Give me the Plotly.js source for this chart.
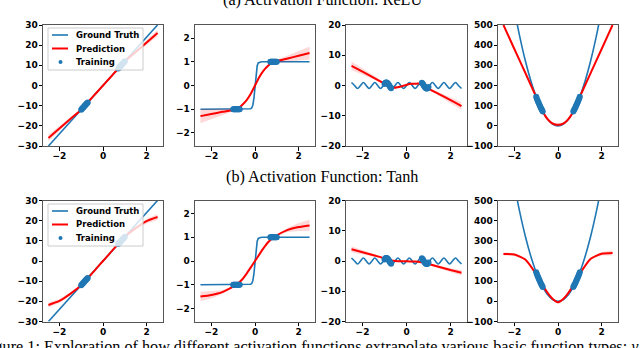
<!DOCTYPE html>
<html>
<head>
<meta charset="utf-8">
<script src="https://cdn.plot.ly/plotly-3.0.1.min.js"></script>
<style>
    html, body { margin: 0; padding: 0; background: #ffffff; }
    #figure { width: 640px; height: 348px; }
</style>
</head>
<body>
<div id="figure"></div>
<script>
// Ground truth curves
const gtLinX = [-2.5, 2.5];
const gtLinY = [-30, 30];

const gtStepX = [-2.5, -0.35, -0.25, -0.2, -0.15, -0.1, -0.05, 0, 0.05, 0.1, 0.15, 0.2, 0.25, 0.35, 2.5];
const gtStepY = [-1, -1, -0.99, -0.98, -0.95, -0.83, -0.54, 0, 0.54, 0.83, 0.95, 0.98, 0.99, 1, 1];

const gtSinX = [-2.5, -2.36, -2.23, -2.09, -1.96, -1.83, -1.7, -1.57, -1.44, -1.31, -1.18, -1.05, -0.92,
    -0.79, -0.65, -0.52, -0.39, -0.26, -0.13, 0, 0.13, 0.26, 0.39, 0.52, 0.65, 0.79, 0.92, 1.05, 1.18,
    1.31, 1.44, 1.57, 1.7, 1.83, 1.96, 2.09, 2.23, 2.36, 2.5];
const gtSinY = [0.99, 0, -1, 0, 1, 0, -1, 0, 1, 0, -1, 0, 1,
    0, -1, 0, 1, 0, -1, 0, 1, 0, -1, 0, 1, 0, -1, 0, 1,
    0, -1, 0, 1, 0, -1, 0, 1, 0, -0.99];

const gtSqX = [-2, -1.75, -1.5, -1.25, -1, -0.75, -0.5, -0.25, 0, 0.25, 0.5, 0.75, 1, 1.25, 1.5, 1.75, 2];
const gtSqY = [576, 441, 324, 225, 144, 81, 36, 9, 0, 9, 36, 81, 144, 225, 324, 441, 576];

// Training samples
const trainX = [-1.0, -0.97, -0.94, -0.91, -0.88, -0.85, -0.82, -0.79, -0.76, -0.73, -0.7,
    0.7, 0.73, 0.76, 0.79, 0.82, 0.85, 0.88, 0.91, 0.94, 0.97, 1.0];
const trainLinY = [-12, -11.6, -11.3, -10.9, -10.6, -10.2, -9.8, -9.5, -9.1, -8.8, -8.4,
    8.4, 8.8, 9.1, 9.5, 9.8, 10.2, 10.6, 10.9, 11.3, 11.6, 12];
const trainStepY = [-1, -1, -1, -1, -1, -1, -1, -1, -1, -1, -1,
    1, 1, 1, 1, 1, 1, 1, 1, 1, 1, 1];
const trainSinY = [0.5, 0.8, 1.0, 1.0, 0.9, 0.7, 0.4, 0.1, -0.3, -0.6, -0.9,
    0.9, 0.6, 0.3, -0.1, -0.4, -0.7, -0.9, -1.0, -1.0, -0.8, -0.5];
const trainSqY = [144, 136, 127, 119, 112, 104, 97, 90, 83, 77, 71,
    71, 77, 83, 90, 97, 104, 112, 119, 127, 136, 144];

// Predictions (mean and half width of the shaded band)
const predX = [-2.5, -2, -1.5, -1, -0.8, -0.6, -0.4, -0.2, 0, 0.2, 0.4, 0.6, 0.8, 1, 1.5, 2, 2.5];

const reluLinY = [-26, -21.3, -16.6, -12, -9.6, -7.2, -4.8, -2.4, 0, 2.4, 4.8, 7.2, 9.6, 12, 16.6, 21.3, 26];
const reluLinErr = [1.6, 1.2, 0.8, 0.4, 0.3, 0.3, 0.3, 0.3, 0.3, 0.3, 0.3, 0.3, 0.3, 0.4, 0.8, 1.2, 1.6];
const reluStepY = [-1.29, -1.2, -1.11, -1.03, -0.98, -0.83, -0.64, -0.36, 0, 0.36, 0.64, 0.83, 0.98, 1.03, 1.14, 1.25, 1.37];
const reluStepErr = [0.3, 0.22, 0.14, 0.05, 0.04, 0.05, 0.05, 0.05, 0.05, 0.05, 0.05, 0.05, 0.04, 0.05, 0.12, 0.2, 0.27];
const reluSinY = [6.5, 4.6, 2.6, 0.6, -0.2, -0.75, -0.6, -0.2, 0.2, 0.55, 0.6, 0.6, -0.1, -1.0, -2.9, -4.8, -6.8];
const reluSinErr = [1.4, 1.0, 0.6, 0.3, 0.3, 0.3, 0.3, 0.3, 0.3, 0.3, 0.3, 0.3, 0.3, 0.3, 0.6, 1.0, 1.3];
const reluSqY = [500, 381, 263, 144, 96, 52, 24, 9, 5, 9, 24, 52, 96, 144, 263, 381, 500];
const reluSqErr = [6, 4, 3, 2, 2, 2, 2, 2, 2, 2, 2, 2, 2, 2, 3, 4, 6];

const tanhLinY = [-21.8, -19.8, -16.3, -12, -9.7, -7.3, -4.9, -2.4, 0, 2.4, 4.9, 7.3, 9.7, 12, 16.3, 19.8, 21.8];
const tanhLinErr = [1.2, 1.0, 0.7, 0.3, 0.3, 0.3, 0.3, 0.3, 0.3, 0.3, 0.3, 0.3, 0.3, 0.3, 0.8, 1.2, 1.5];
const tanhStepY = [-1.5, -1.43, -1.31, -1.08, -0.96, -0.79, -0.55, -0.28, 0, 0.28, 0.55, 0.79, 0.96, 1.08, 1.31, 1.43, 1.5];
const tanhStepErr = [0.2, 0.15, 0.08, 0.03, 0.03, 0.03, 0.03, 0.03, 0.03, 0.03, 0.03, 0.03, 0.03, 0.03, 0.09, 0.17, 0.24];
const tanhSinY = [3.9, 2.9, 1.9, 0.9, 0.4, 0.05, -0.1, -0.1, -0.1, -0.15, -0.2, -0.3, -0.6, -1.0, -2.0, -3.0, -3.9];
const tanhSinErr = [1.0, 0.7, 0.4, 0.2, 0.2, 0.2, 0.2, 0.2, 0.2, 0.2, 0.2, 0.2, 0.2, 0.2, 0.4, 0.6, 0.9];
const tanhSqY = [235, 232, 207, 134, 97, 62, 31, 8, -5, 8, 31, 62, 97, 136, 211, 236, 240];
const tanhSqErr = [8, 6, 4, 2, 2, 2, 2, 2, 2, 2, 2, 2, 2, 2, 5, 9, 13];

// Axis settings
const xRange = [-2.75, 2.75];
const xTickVals = [-2, 0, 2];
const yRanges = [[-30, 30], [-2.55, 2.55], [-20, 20], [-100, 500]];
const yTickVals = [
    [-30, -20, -10, 0, 10, 20, 30],
    [-2, -1, 0, 1, 2],
    [-20, -10, 0, 10, 20],
    [-100, 0, 100, 200, 300, 400, 500],
];

// Legend entries (drawn by hand so the box keeps matplotlib's compact size)
const legendNames = ['Ground Truth', 'Prediction', 'Training'];
const legendKinds = ['line', 'line', 'dot'];

const W = 640, H = 348;
const colPx = [[43, 163], [195, 315], [346, 467], [498, 618]];
const rowPx = [[25, 146], [200.5, 321.5]];
const legendTopPx = [28, 204];

const BLUE = '#1f77b4';
const RED = '#ff0000';
const BAND = 'rgba(255,0,0,0.15)';
const legendColors = [BLUE, RED, BLUE];

const panels = [
    {gtX: gtLinX, gtY: gtLinY, trY: trainLinY, pY: reluLinY, pE: reluLinErr, gtShape: 'linear'},
    {gtX: gtStepX, gtY: gtStepY, trY: trainStepY, pY: reluStepY, pE: reluStepErr, gtShape: 'linear'},
    {gtX: gtSinX, gtY: gtSinY, trY: trainSinY, pY: reluSinY, pE: reluSinErr, gtShape: 'spline'},
    {gtX: gtSqX, gtY: gtSqY, trY: trainSqY, pY: reluSqY, pE: reluSqErr, gtShape: 'spline'},
    {gtX: gtLinX, gtY: gtLinY, trY: trainLinY, pY: tanhLinY, pE: tanhLinErr, gtShape: 'linear'},
    {gtX: gtStepX, gtY: gtStepY, trY: trainStepY, pY: tanhStepY, pE: tanhStepErr, gtShape: 'linear'},
    {gtX: gtSinX, gtY: gtSinY, trY: trainSinY, pY: tanhSinY, pE: tanhSinErr, gtShape: 'spline'},
    {gtX: gtSqX, gtY: gtSqY, trY: trainSqY, pY: tanhSqY, pE: tanhSqErr, gtShape: 'spline'},
];

const tickFont = {family: 'DejaVu Sans', size: 9, weight: 'bold', color: '#000000'};
const legendFont = {family: 'DejaVu Sans', size: 8.5, weight: 'bold', color: '#000000'};
const captionFont = {family: 'Liberation Serif', size: 16.2, color: '#000000'};

const px = (x) => x / W;
const py = (y) => 1 - y / H;

let data = [];
let layout = {
    width: W,
    height: H,
    margin: {l: 0, r: 0, t: 0, b: 0},
    paper_bgcolor: '#ffffff',
    plot_bgcolor: '#ffffff',
    showlegend: false,
    hovermode: false,
    shapes: [],
    annotations: [
        {
            xref: 'paper', yref: 'paper',
            x: px(322), y: py(0),
            xanchor: 'center', yanchor: 'middle',
            text: '(a) Activation Function: ReLU',
            showarrow: false,
            font: captionFont,
        },
        {
            xref: 'paper', yref: 'paper',
            x: px(322), y: py(176.5),
            xanchor: 'center', yanchor: 'middle',
            text: '(b) Activation Function: Tanh',
            showarrow: false,
            font: captionFont,
        },
        {
            xref: 'paper', yref: 'paper',
            x: px(-21), y: py(347),
            xanchor: 'left', yanchor: 'middle',
            text: 'Figure 1: Exploration of how different activation functions extrapolate various basic function types: <i>y</i>',
            showarrow: false,
            font: captionFont,
        },
    ],
};

panels.forEach((p, i) => {
    const row = Math.floor(i / 4);
    const col = i % 4;
    const n = i === 0 ? '' : String(i + 1);
    const xa = 'x' + n;
    const ya = 'y' + n;

    const axisCommon = {
        ticks: 'outside',
        ticklen: 3.5,
        tickwidth: 1,
        tickcolor: '#000000',
        tickfont: tickFont,
        showline: true,
        linecolor: '#555555',
        linewidth: 1,
        mirror: true,
        showgrid: false,
        zeroline: false,
        fixedrange: true,
    };
    layout['xaxis' + n] = Object.assign({
        domain: [px(colPx[col][0]), px(colPx[col][1])],
        anchor: ya,
        range: xRange,
        tickvals: xTickVals,
        ticklabelstandoff: -2,
    }, axisCommon);
    layout['yaxis' + n] = Object.assign({
        domain: [py(rowPx[row][1]), py(rowPx[row][0])],
        anchor: xa,
        range: yRanges[col],
        tickvals: yTickVals[col],
        ticklabelstandoff: -1,
    }, axisCommon);

    data.push({
        x: p.gtX, y: p.gtY,
        xaxis: xa, yaxis: ya,
        mode: 'lines',
        name: 'Ground Truth',
        line: {color: BLUE, width: 1.6, shape: p.gtShape},
    });

    const upper = p.pY.map((v, k) => v + p.pE[k]);
    const lower = p.pY.map((v, k) => v - p.pE[k]);
    data.push({
        x: predX.concat(predX.slice().reverse()),
        y: upper.concat(lower.slice().reverse()),
        xaxis: xa, yaxis: ya,
        mode: 'lines',
        fill: 'toself',
        fillcolor: BAND,
        line: {width: 0},
    });

    data.push({
        x: predX, y: p.pY,
        xaxis: xa, yaxis: ya,
        mode: 'lines',
        name: 'Prediction',
        line: {color: RED, width: 2, shape: 'spline', smoothing: 0.6},
    });

    data.push({
        x: trainX, y: p.trY,
        xaxis: xa, yaxis: ya,
        mode: 'markers',
        name: 'Training',
        marker: {color: BLUE, size: 6},
    });
});

// Legend box in the first panel of each row
legendTopPx.forEach((top) => {
    const left = 48;
    layout.shapes.push({
        type: 'rect', xref: 'paper', yref: 'paper', layer: 'above',
        x0: px(left), x1: px(left + 95), y0: py(top), y1: py(top + 42),
        fillcolor: 'rgba(255,255,255,0.8)',
        line: {color: '#cccccc', width: 1},
    });
    legendNames.forEach((name, k) => {
        const yc = top + 7 + k * 13.5;
        if (legendKinds[k] === 'line') {
            layout.shapes.push({
                type: 'line', xref: 'paper', yref: 'paper', layer: 'above',
                x0: px(left + 4), x1: px(left + 20), y0: py(yc), y1: py(yc),
                line: {color: legendColors[k], width: k === 0 ? 1.6 : 2},
            });
        } else {
            layout.shapes.push({
                type: 'circle', xref: 'paper', yref: 'paper', layer: 'above',
                x0: px(left + 10.5), x1: px(left + 14.5), y0: py(yc - 2), y1: py(yc + 2),
                fillcolor: legendColors[k],
                line: {width: 0},
            });
        }
        layout.annotations.push({
            xref: 'paper', yref: 'paper',
            x: px(left + 27), y: py(yc),
            xanchor: 'left', yanchor: 'middle',
            text: name,
            showarrow: false,
            borderpad: 0,
            font: legendFont,
        });
    });
});

let config = {
    staticPlot: true,
    displayModeBar: false,
};

Plotly.newPlot('figure', data, layout, config);
</script>
</body>
</html>
